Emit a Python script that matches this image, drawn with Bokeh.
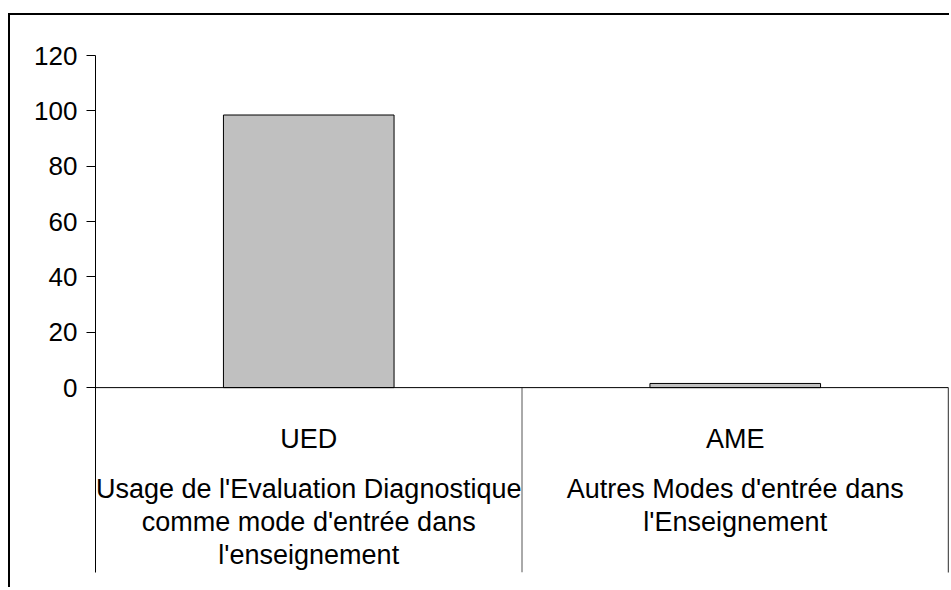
from bokeh.plotting import figure
from bokeh.models import (FactorRange, Range1d, FixedTicker, Span, ColumnDataSource,
                          LinearAxis)
from bokeh.core.properties import value
from bokeh.embed import file_html
from bokeh.resources import INLINE

# ---- data ----
categories = ["UED", "AME"]
values = [98.5, 1.5]
descriptions = [
    ["Usage de l'Evaluation Diagnostique", "comme mode d'entrée dans", "l'enseignement"],
    ["Autres Modes d'entrée dans", "l'Enseignement"],
]
y_ticks = [0, 20, 40, 60, 80, 100, 120]

FONT = "Liberation Sans"
FS_TICK = "26px"
FS_CAT = "27px"

y_bottom = -66.8
p = figure(
    x_range=FactorRange(*categories),
    y_range=Range1d(y_bottom, 120),
    width=941, height=574,
    output_backend="svg", toolbar_location=None,
    x_axis_location=None,
    min_border_left=85, min_border_right=3,
    min_border_top=40, min_border_bottom=17,
)
p.styles = {"margin-top": "13px", "margin-left": "8px",
            "border-top": "2px solid black", "border-left": "2px solid black"}
p.outline_line_color = None
p.xgrid.visible = False
p.ygrid.visible = False
p.background_fill_color = "white"
p.border_fill_color = "white"

yax = p.yaxis[0]
yax.ticker = FixedTicker(ticks=y_ticks)
yax.axis_line_color = "black"
yax.axis_line_width = 1
yax.major_tick_line_color = "black"
yax.major_tick_out = 9
yax.major_tick_in = 0
yax.minor_tick_line_color = None
yax.major_label_standoff = 9
yax.major_label_text_font = FONT
yax.major_label_text_font_size = FS_TICK
yax.major_label_text_color = "black"

# right-hand category boundary (below the zero line only)
rax = LinearAxis(bounds=(y_bottom, 0), ticker=FixedTicker(ticks=[0]),
                 axis_line_color="#555555", axis_line_width=1.5,
                 major_tick_line_color=None, minor_tick_line_color=None,
                 major_label_text_color=None, major_label_standoff=0,
                 major_tick_out=0, major_tick_in=0)
p.add_layout(rax, "right")

# bars
p.vbar(x=categories, top=values, width=0.4, fill_color="#C0C0C0",
       line_color="black", line_width=1)

# category axis line at zero
p.add_layout(Span(location=0, dimension="width", line_color="black", line_width=1))

# interior category separators below the axis
n = len(categories)
sep_x = list(range(1, n))
p.segment(x0=sep_x, y0=[0] * len(sep_x), x1=sep_x, y1=[y_bottom] * len(sep_x),
          line_color="#555555", line_width=1)

# category labels
lab_src = ColumnDataSource(dict(x=categories, y=[0] * n, t=categories))
p.text(x="x", y="y", text="t", source=lab_src, y_offset=51,
       text_align="center", text_baseline="alphabetic",
       text_font=value(FONT), text_font_size=FS_CAT, text_color="black")

# descriptions
dx, dy, dt, doff = [], [], [], []
for cat, lines in zip(categories, descriptions):
    for k, line in enumerate(lines):
        dx.append(cat)
        dy.append(0)
        dt.append(line)
        doff.append(101 + 33 * k)
desc_src = ColumnDataSource(dict(x=dx, y=dy, t=dt, off=doff))
p.text(x="x", y="y", text="t", source=desc_src, y_offset="off",
       text_align="center", text_baseline="alphabetic",
       text_font=value(FONT), text_font_size=FS_CAT, text_color="black")

open("out.html", "w").write(file_html(p, INLINE))
